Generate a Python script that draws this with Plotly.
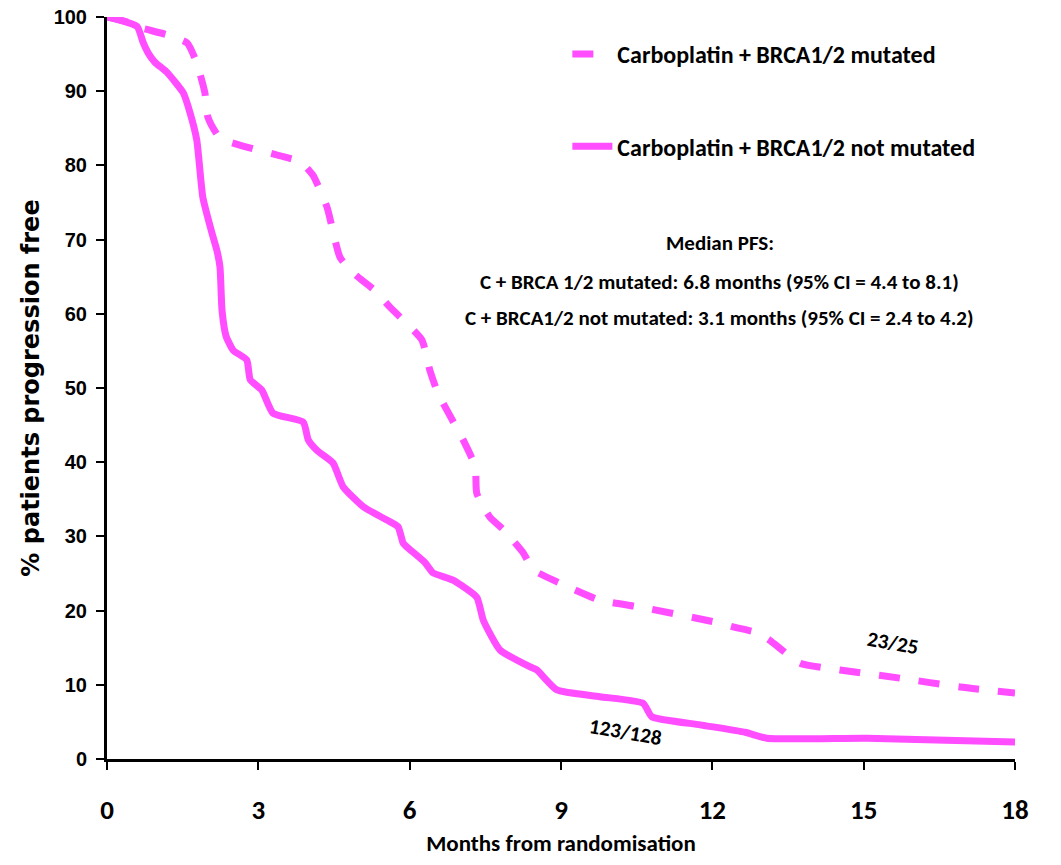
import plotly.graph_objects as go

# Kaplan-Meier style PFS curves
mut_months = [0, 0.46, 0.59, 1.19, 1.59, 1.78, 1.94, 2.0, 2.24, 3.37, 3.83, 4.08, 4.36, 4.62, 4.88,
              5.3, 5.61, 6.24, 6.4, 6.56, 7.06, 7.3, 7.33, 7.59, 7.86, 8.25, 8.45, 8.98, 9.77,
              10.63, 12.02, 12.41, 12.9, 13.14, 13.74, 14.53, 15.72, 16.91, 18]
mut_pfs = [100, 99.2, 98.7, 97.6, 96.5, 93.8, 89.8, 86.5, 83.7, 81.4, 80.5, 78.7, 74.4, 67.6, 65.5,
           63.2, 60.9, 56.5, 52.4, 49.3, 43, 39.4, 35.8, 32.6, 30.9, 27.8, 25.5, 23.7, 21.4,
           20.4, 18.5, 17.8, 17.0, 16, 12.9, 12, 10.9, 9.7, 8.9]

not_mut_months = [0, 0.3, 0.6, 0.72, 0.82, 0.95, 1.18, 1.51, 1.65, 1.78, 1.9, 2.08, 2.18, 2.24, 2.28,
                  2.36, 2.5, 2.77, 2.84, 3.07, 3.29, 3.89, 3.99, 4.16, 4.48, 4.68, 5.08, 5.55, 5.77,
                  5.87, 5.94, 6.3, 6.46, 6.86, 7.33, 7.46, 7.79, 8.39, 8.52, 8.92, 9.77, 10.63, 10.8,
                  11.76, 12.65, 13.08, 15.07, 18]
not_mut_pfs = [100, 99.5, 98.7, 96.5, 95.1, 93.9, 92.6, 89.8, 87, 83.4, 75.7, 70.9, 68.5, 66.3, 60.5,
               57.0, 55.1, 53.8, 51.1, 49.7, 46.6, 45.4, 43, 41.6, 39.9, 36.7, 34, 32.2, 31.3,
               29.1, 28.6, 26.5, 25.1, 24.1, 21.8, 18.7, 14.7, 12.4, 12, 9.3, 8.4, 7.5, 5.7,
               4.6, 3.6, 2.8, 2.8, 2.3]

series_names = ["Carboplatin + BRCA1/2 mutated", "Carboplatin + BRCA1/2 not mutated"]
x_ticks = [0, 3, 6, 9, 12, 15, 18]
y_ticks = [0, 10, 20, 30, 40, 50, 60, 70, 80, 90, 100]
median_text = ["Median PFS:",
               "C + BRCA 1/2 mutated: 6.8 months (95% CI = 4.4 to 8.1)",
               "C + BRCA1/2 not mutated: 3.1 months (95% CI = 2.4 to 4.2)"]
median_pos_y = [69.5, 64.3, 59.4]
at_risk = [("23/25", 15.58, 15.6), ("123/128", 10.27, 3.64)]

COLOR = "#FF4DFF"
FONT = "Carlito, DejaVu Sans Condensed, Liberation Sans, sans-serif"
BOLD = dict(family=FONT, color="black", weight="bold")

fig = go.Figure()
fig.add_trace(go.Scatter(x=mut_months, y=mut_pfs, mode="lines", name=series_names[0],
                         legendgroup="a", cliponaxis=False,
                         line=dict(color=COLOR, width=7, dash="21px,19px",
                                   shape="spline", smoothing=0.5)))
fig.add_trace(go.Scatter(x=not_mut_months, y=not_mut_pfs, mode="lines", name=series_names[1],
                         legendgroup="b", cliponaxis=False,
                         line=dict(color=COLOR, width=7, shape="spline", smoothing=0.5)))

for txt, yy in zip(median_text, median_pos_y):
    fig.add_annotation(x=12.15, y=yy, text=txt, showarrow=False, xanchor="center",
                       yanchor="middle", font=dict(BOLD, size=21))
for txt, xx, yy in at_risk:
    fig.add_annotation(x=xx, y=yy, text=txt, showarrow=False, textangle=10,
                       xanchor="center", yanchor="middle", font=dict(BOLD, size=21))

# the page body adds an 8px margin, so the figure is sized to fit inside it
fig.update_layout(
    width=1045, height=849,
    margin=dict(l=99, r=38, t=9, b=98),
    paper_bgcolor="white", plot_bgcolor="white",
    showlegend=True,
    legend=dict(x=0.507, y=0.98, xanchor="left", yanchor="top", tracegroupgap=58,
                font=dict(BOLD, size=24),
                bgcolor="rgba(0,0,0,0)", itemwidth=40),
    xaxis=dict(range=[0, 18], tickvals=x_ticks, showgrid=False, zeroline=False,
               automargin=False, ticklabeloverflow="allow",
               showline=True, linecolor="black", linewidth=3, ticks="outside",
               ticklen=8, tickwidth=2, tickcolor="black", ticklabelstandoff=17,
               tickfont=dict(BOLD, size=27),
               title=dict(text="Months from randomisation", standoff=10,
                          font=dict(BOLD, size=23))),
    yaxis=dict(range=[0, 100], tickvals=y_ticks, showgrid=False, zeroline=False,
               automargin=False, ticklabeloverflow="allow",
               showline=True, linecolor="black", linewidth=3, ticks="outside",
               ticklen=8, tickwidth=2, tickcolor="black", ticklabelstandoff=5,
               tickfont=dict(family="Liberation Sans, sans-serif", size=20, color="black", weight="bold"),
               title=dict(text="% patients progression free", standoff=8,
                          font=dict(family="DejaVu Sans, sans-serif", size=24, color="black", weight="bold"))),
)

fig.write_html("out.html")
